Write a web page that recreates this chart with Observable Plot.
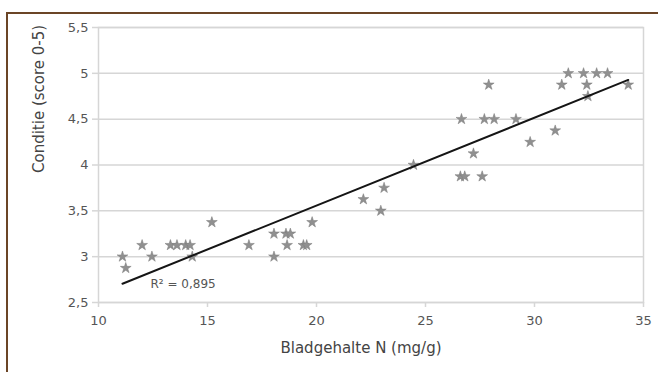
<!DOCTYPE html>
<html><head><meta charset="utf-8">
<script src="https://cdn.jsdelivr.net/npm/d3@7"></script>
<script src="https://cdn.jsdelivr.net/npm/@observablehq/plot@0.6"></script>
<style>
html,body{margin:0;padding:0;background:#fff;}
#wrap{position:relative;width:658px;height:372px;overflow:hidden;background:#fff;}
#border{position:absolute;left:6px;top:12px;width:700px;height:400px;border-top:2px solid #6b4526;border-left:2px solid #6b4526;}
#chart{position:absolute;left:0;top:0;}
</style></head><body>
<div id="wrap"><div id="border"></div><div id="chart"></div></div>
<script>
// Leaf nitrogen content (mg/g) and condition score (0-5)
const nitrogen = [11.1, 11.25, 12.0, 12.45, 13.3, 13.6, 14.0, 14.2, 14.3, 15.2,
  16.9, 18.05, 18.05, 18.6, 18.8, 18.65, 19.4, 19.55, 19.8,
  22.15, 22.95, 23.1, 24.45, 26.6, 26.8, 27.6, 27.2, 26.65, 27.7, 28.15,
  27.9, 29.15, 29.8, 30.95, 31.25, 31.55, 32.25, 32.4, 32.85, 33.35, 32.45, 34.3];
const condition = [3.0, 2.875, 3.125, 3.0, 3.125, 3.125, 3.125, 3.125, 3.0, 3.375,
  3.125, 3.25, 3.0, 3.25, 3.25, 3.125, 3.125, 3.125, 3.375,
  3.625, 3.5, 3.75, 4.0, 3.875, 3.875, 3.875, 4.125, 4.5, 4.5, 4.5,
  4.875, 4.5, 4.25, 4.375, 4.875, 5.0, 5.0, 4.875, 5.0, 5.0, 4.75, 4.875];
const xTicks = [10, 15, 20, 25, 30, 35];
const yTicks = [2.5, 3, 3.5, 4, 4.5, 5, 5.5];
const r2Text = "R² = 0,895";
const xLabel = "Bladgehalte N (mg/g)";
const yLabel = "Conditie (score 0-5)";

const data = nitrogen.map((x, i) => ({x, y: condition[i]}));
const fmt = d => String(d).replace(".", ",");
const gridColor = "#d6d6d6";

const chart = Plot.plot({
  width: 658, height: 372,
  marginLeft: 98, marginRight: 15, marginTop: 27, marginBottom: 70,
  style: {fontFamily: "DejaVu Sans", fontSize: "13px", color: "#555", background: "transparent"},
  x: {domain: [10, 35], ticks: xTicks, label: null},
  y: {domain: [2.5, 5.5], ticks: yTicks, label: null},
  marks: [
    Plot.gridY({ticks: yTicks, stroke: gridColor, strokeOpacity: 1, strokeWidth: 1.5}),
    Plot.frame({stroke: gridColor, strokeWidth: 1.5}),
    Plot.axisY({ticks: yTicks, tickSize: 6, tickPadding: 4, stroke: gridColor, strokeWidth: 1.5, tickFormat: fmt, fontSize: 13, fill: "#555", label: null}),
    Plot.axisX({ticks: xTicks, tickSize: 5, tickPadding: 8, stroke: gridColor, strokeWidth: 1.5, fontSize: 13, fill: "#555", label: null}),
    Plot.dot(data, {x: "x", y: "y", symbol: "star", r: 3.4, fill: "#909090", stroke: "#7a7a7a", strokeWidth: 0.5}),
    Plot.linearRegressionY(data, {x: "x", y: "y", ci: 0, stroke: "#151515", strokeWidth: 2}),
    Plot.text([r2Text], {text: d => d, frameAnchor: "bottom-left", dx: 52, dy: -15, textAnchor: "start", fontSize: 12, fill: "#555"}),
    Plot.text([xLabel], {text: d => d, frameAnchor: "bottom", dx: -10, dy: 50, fontSize: 15, fill: "#444"}),
    Plot.text([yLabel], {text: d => d, frameAnchor: "left", rotate: -90, dx: -59, dy: 8, fontSize: 15, fill: "#444"})
  ]
});
document.getElementById("chart").appendChild(chart);
</script>
</body></html>
